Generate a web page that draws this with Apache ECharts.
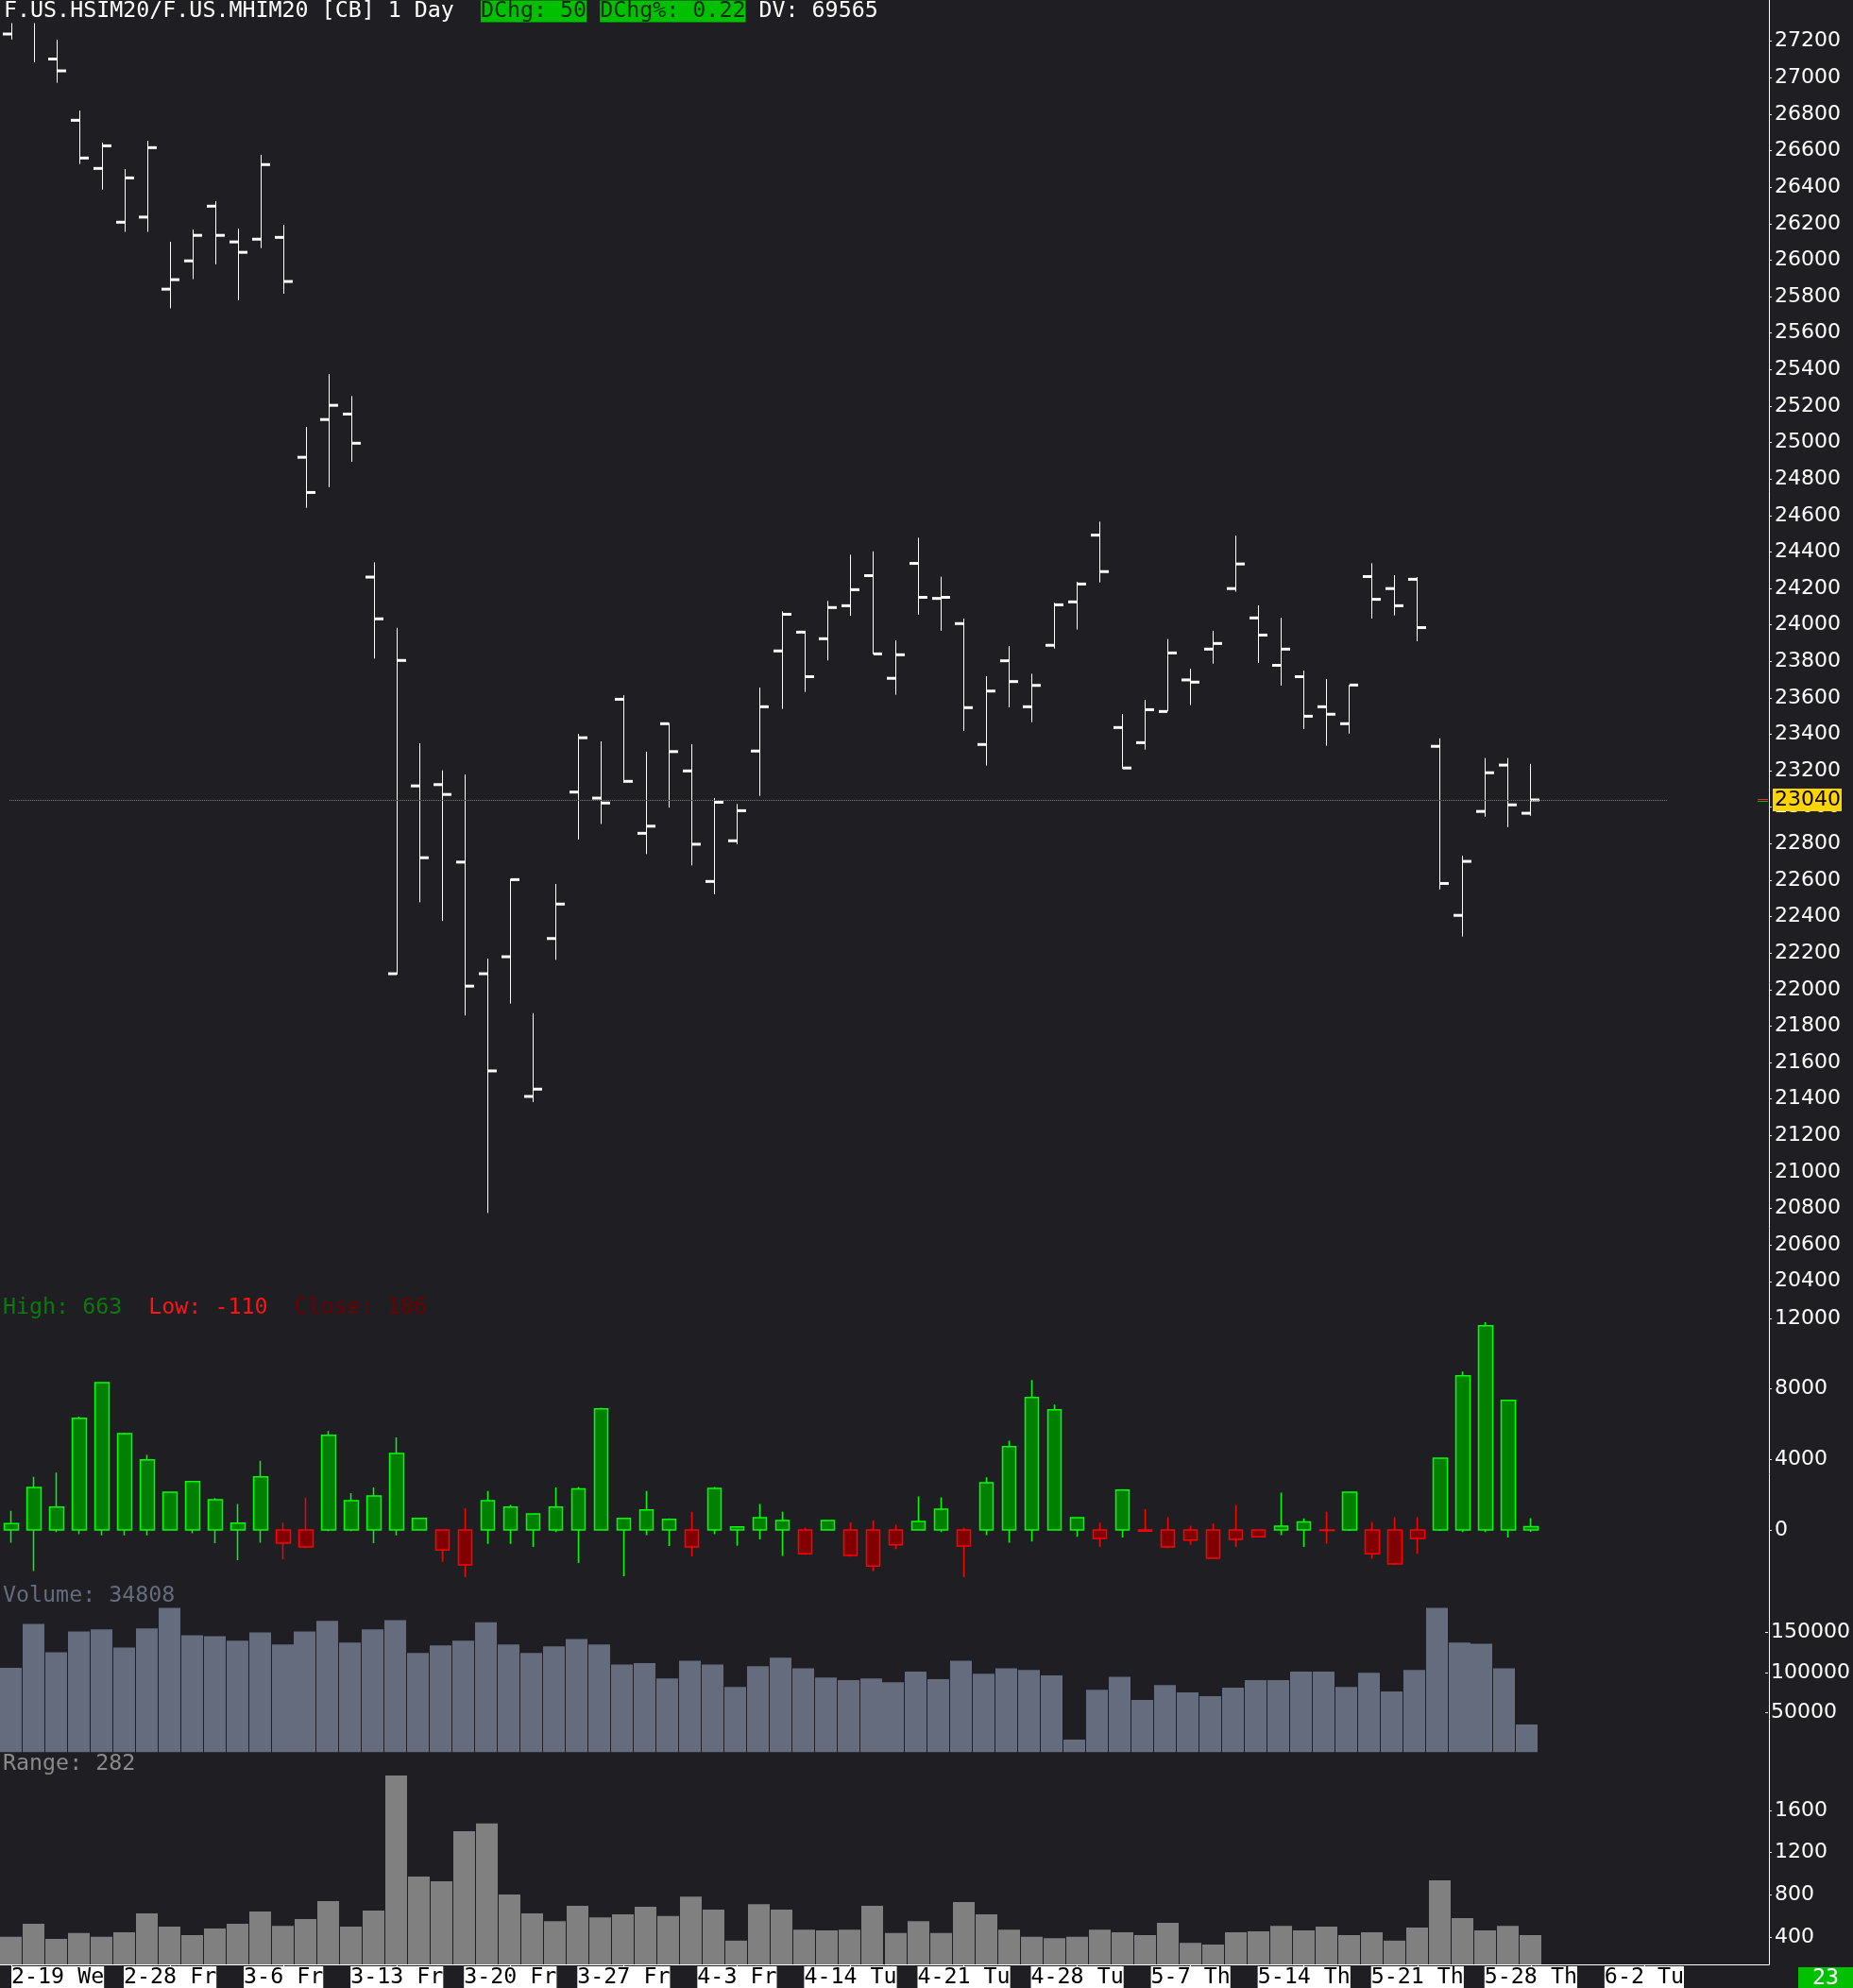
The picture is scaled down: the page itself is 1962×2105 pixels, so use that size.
<!DOCTYPE html>
<html>
<head>
<meta charset="utf-8">
<script src="https://cdn.jsdelivr.net/npm/echarts@6/dist/echarts.min.js"></script>
<style>
html,body{margin:0;padding:0;background:#1e1e23;}
#c{width:1962px;height:2105px;}
</style>
</head>
<body>
<div id="c"></div>
<script>
// ---------- categories ----------
const tradeDates = ['2-19 We','2-20 Th','2-21 Fr','2-24 Mo','2-25 Tu','2-26 We','2-27 Th','2-28 Fr',
'3-2 Mo','3-3 Tu','3-4 We','3-5 Th','3-6 Fr','3-9 Mo','3-10 Tu','3-11 We','3-12 Th','3-13 Fr',
'3-16 Mo','3-17 Tu','3-18 We','3-19 Th','3-20 Fr','3-23 Mo','3-24 Tu','3-25 We','3-26 Th','3-27 Fr',
'3-30 Mo','3-31 Tu','4-1 We','4-2 Th','4-3 Fr','4-6 Mo','4-7 Tu','4-8 We','4-9 Th',
'4-14 Tu','4-15 We','4-16 Th','4-17 Fr','4-20 Mo','4-21 Tu','4-22 We','4-23 Th','4-24 Fr',
'4-27 Mo','4-28 Tu','4-29 We','5-4 Mo','5-5 Tu','5-6 We','5-7 Th','5-8 Fr',
'5-11 Mo','5-12 Tu','5-13 We','5-14 Th','5-15 Fr','5-18 Mo','5-19 Tu','5-20 We','5-21 Th','5-22 Fr',
'5-25 Mo','5-26 Tu','5-27 We','5-28 Th'];
const futureDates = ['5-29 Fr','5-30 Sa','5-31 Su','6-1 Mo','6-2 Tu','6-3 We','6-4 Th','6-5 Fr','6-6 Sa','6-7 Su'];
const labelIndexes = [0,7,12,17,22,27,32,37,42,47,52,57,62,67,72];

// ---------- price OHLC ----------
const priceOpen = [27240,27395,27103,26767,26503,26208,26236,25841,25996,26296,
26100,26115,26125,24919,25126,25156,24262,22087,23117,23124,
22699,22087,22180,21414,22280,23083,23050,23592,22857,23458,
23199,22593,22816,23308,23857,23960,23924,24105,24270,23707,
24337,24145,24007,23344,23803,23551,23888,24126,24492,23437,
23354,23525,23698,23867,24199,24038,23778,23716,23551,23458,
24265,24199,24250,23334,22407,22977,23231,22967];
const priceHigh = [27390,27400,27209,26820,26645,26499,26654,26101,26168,26324,
26173,26578,26194,25085,25376,25255,24343,23984,23351,23202,
23180,22170,22608,21871,22579,23402,23361,23614,23305,23463,
23346,23050,23018,23656,24074,23968,24131,24385,24403,23915,
24478,24264,24035,23719,23884,23732,24121,24236,24566,23511,
23589,23922,23760,23968,24489,24107,24040,23749,23703,23670,
24338,24272,24262,23378,22735,23270,23270,23238];
const priceLow = [27210,27085,26973,26527,26387,26155,26155,25736,25896,25977,
25780,26066,25816,24642,24755,24894,23815,22082,22479,22376,
21858,20775,21923,21383,22163,22823,22908,23133,22743,22998,
22681,22523,22797,23062,23539,23632,23805,24049,23839,23617,
24056,23968,23418,23228,23548,23466,23870,23974,24233,23210,
23316,23525,23560,23787,24182,23791,23666,23429,23337,23404,
24035,24052,23910,22549,22291,22948,22891,22953];
const priceClose = [27375,27380,27038,26560,26627,26451,26617,25893,26136,26136,
26043,26524,25883,24726,25204,24996,24033,23805,22723,23070,
22019,21554,22603,21454,22469,23381,23023,23142,22896,23305,
22797,23027,22981,23551,24058,23716,24095,24193,23841,23836,
24151,24151,23546,23637,23689,23668,24110,24224,24292,23215,
23535,23846,23686,23898,24334,23944,23867,23499,23510,23670,
24140,24105,23985,22582,22703,23189,23013,23040];
const priceTicks = {min:20200, max:27400, step:200};

// ---------- spread candles (open at 0) ----------
const spreadOpen = [0,0,0,0,0,0,0,0,0,0, 0,0,0,0,0,0,0,0,0,0, 0,0,0,0,0,0,0,0,0,0,
0,0,0,0,0,0,0,0,0,0, 0,0,0,0,0,0,0,0,0,0, 0,0,0,0,0,0,0,0,0,0, 0,0,0,0,0,0,0,0];
const spreadClose = [361,2408,1300,6333,8356,5466,3973,2143,2745,1710,
385,3010,-746,-963,5370,1662,1926,4334,650,-1132,
-1975,1662,1300,915,1300,2336,6863,650,1132,602,
-963,2360,169,698,530,-1348,530,-1445,-2047,-843,
482,1180,-915,2673,4720,7513,6815,698,-482,2264,
-72,-963,-578,-1613,-530,-385,217,458,-24,2143,
-1348,-1926,-482,4070,8741,11583,7344,186];
const spreadHigh = [1084,3010,3251,6430,8356,5514,4262,2143,2745,1806,
1469,3925,409,1830,5611,2095,2408,5249,650,0,
1228,2215,1421,915,2408,2432,6935,650,2215,650,
1011,2432,169,1469,1035,120,530,433,554,289,
1902,1854,120,2986,5057,8500,7104,698,409,2312,
1180,722,241,361,1421,0,2119,650,1035,2143,
458,722,722,4070,8982,11775,7344,663];
const spreadLow = [-722,-2336,-120,-241,-313,-313,-313,0,-193,-746,
-1710,-722,-1662,-1035,-72,-72,-746,-313,0,-1806,
-2673,-795,-795,-963,-120,-1878,0,-2625,-289,-915,
-1493,-241,-891,-530,-1469,-1421,0,-1517,-2336,-1084,
0,-120,-2673,-289,-722,-650,0,-385,-963,-433,
-72,-1035,-843,-1613,-963,-385,-289,-963,-770,-48,
-1637,-1975,-1348,-48,-120,-120,-433,-110];
const spreadTicks = {min:-4000, max:12000, step:4000};

// ---------- volume ----------
const volume = [105800,160800,125400,151300,153900,131200,155000,180900,146500,145500,
139700,150200,134900,151300,164500,137500,153900,165600,124300,133800,
139700,162900,134900,124300,132800,141800,134900,110000,111600,92600,
114800,110000,82000,107900,118500,105300,93600,90500,92600,87800,
101000,91500,114800,98400,105300,103200,96300,15900,78300,94700,
65600,84100,75100,70400,80900,90500,90500,101000,101000,82000,
99500,76200,103200,180900,137500,136000,105300,34808];
const volumeTicks = {min:0, max:200000, step:50000};

// ---------- range ----------
const rangeVals = [401,525,381,437,401,445,622,497,417,481,
525,642,505,570,739,497,650,1929,972,928,
1402,1475,803,622,550,694,586,614,686,598,
783,658,365,710,658,469,461,469,694,437,
550,437,731,614,469,401,389,401,469,445,
417,533,344,328,445,453,505,461,497,417,
445,365,489,936,578,461,505,417];
const rangeLabelValues = [400,800,1200,1600];
const rangeAxis = {min:140, max:2000};
const rangeCurrent = 282;

// ---------- header ----------
const headerTitle = 'F.US.HSIM20/F.US.MHIM20 [CB] 1 Day';
const dChg = 50;
const dChgPct = '0.22';
const dayVolume = 69565;
const cornerText = '23';

// ---------- styles ----------
const BG = '#1e1e23';
const MONO = '"DejaVu Sans Mono", monospace';
const SANS = '"DejaVu Sans", sans-serif';
const categories = tradeDates.concat(futureDates);
const n = tradeDates.length;
const lastIdx = n - 1;
const lastClose = priceClose[lastIdx];
const refLineEnd = 73;
const showLabel = (idx) => labelIndexes.indexOf(idx) >= 0;

const L = 0, R = 89;
const grids = [
  {left:L, right:R, top:5.13, height:1390.25},
  {left:L, right:R, top:1395.9, height:298.8},
  {left:L, right:R, top:1686.3, height:169.2},
  {left:L, right:R, top:1872.1, height:207.9}
];

const plain = (v) => String(v);
const yCommon = {
  position:'right',
  axisLine:{show:false},
  splitLine:{show:false},
  axisTick:{show:true, length:3, lineStyle:{color:'#ffffff', width:1}},
  axisLabel:{color:'#ffffff', fontFamily:SANS, fontSize:22, margin:6, formatter:plain}
};

const xAxes = grids.map((g, i) => {
  if (i < 3) {
    return {type:'category', gridIndex:i, data:categories, boundaryGap:true, show:false};
  }
  return {
    type:'category', gridIndex:i, data:categories, boundaryGap:true,
    axisLine:{show:true, lineStyle:{color:'#ffffff', width:1}},
    axisTick:{show:true, alignWithLabel:true, interval:(idx)=>showLabel(idx), length:3, lineStyle:{color:'#ffffff'}},
    axisLabel:{show:true, interval:(idx)=>showLabel(idx), color:'#000000', backgroundColor:'#ffffff',
      fontFamily:MONO, fontSize:23.3, lineHeight:23, padding:[0,0,0,0], margin:2, alignMinLabel:'left'},
    splitLine:{show:false}
  };
});

const yAxes = [
  Object.assign({}, yCommon, {gridIndex:0, min:priceTicks.min, max:priceTicks.max, interval:priceTicks.step,
    axisLabel:Object.assign({}, yCommon.axisLabel, {showMinLabel:false, showMaxLabel:false})}),
  Object.assign({}, yCommon, {gridIndex:1, min:spreadTicks.min, max:spreadTicks.max, interval:spreadTicks.step,
    axisLabel:Object.assign({}, yCommon.axisLabel, {showMinLabel:false})}),
  Object.assign({}, yCommon, {gridIndex:2, min:volumeTicks.min, max:volumeTicks.max, interval:volumeTicks.step,
    axisLabel:Object.assign({}, yCommon.axisLabel, {showMinLabel:false, showMaxLabel:false})}),
  Object.assign({}, yCommon, {gridIndex:3, min:rangeAxis.min, max:rangeAxis.max,
    axisTick:Object.assign({}, yCommon.axisTick, {customValues:rangeLabelValues}),
    axisLabel:Object.assign({}, yCommon.axisLabel, {customValues:rangeLabelValues})})
];

const ohlcData = priceOpen.map((o, i) => [i, o, priceHigh[i], priceLow[i], priceClose[i]]);

const ohlcSeries = {
  type:'custom', name:'price', xAxisIndex:0, yAxisIndex:0, clip:false, z:5,
  encode:{x:0, y:[1,2,3,4]},
  data:ohlcData,
  renderItem:(params, api) => {
    const idx = api.value(0);
    const pO = api.coord([idx, api.value(1)]);
    const pH = api.coord([idx, api.value(2)]);
    const pL = api.coord([idx, api.value(3)]);
    const pC = api.coord([idx, api.value(4)]);
    const x = Math.floor(pO[0]) + 0.5;
    const tick = 9, th = 3;
    return {type:'group', children:[
      {type:'line', shape:{x1:x, y1:pH[1], x2:x, y2:pL[1]}, style:{stroke:'#ffffff', lineWidth:1}},
      {type:'rect', shape:{x:x-0.5-tick, y:pO[1]-th/2, width:tick, height:th}, style:{fill:'#ffffff'}},
      {type:'rect', shape:{x:x+0.5, y:pC[1]-th/2, width:tick, height:th}, style:{fill:'#ffffff'}}
    ]};
  }
};

const lastSeries = {
  type:'custom', name:'last', xAxisIndex:0, yAxisIndex:0, clip:false, z:20,
  data:[[lastIdx, lastClose]],
  renderItem:(params, api) => {
    const idx = api.value(0), v = api.value(1);
    const p = api.coord([idx, v]);
    const p0 = api.coord([0, v]);
    const p1 = api.coord([refLineEnd, v]);
    const right = params.coordSys.x + params.coordSys.width;
    const y = Math.round(p[1]) + 0.5;
    return {type:'group', children:[
      {type:'line', shape:{x1:p0[0]-2, y1:y, x2:p1[0], y2:y}, style:{stroke:'#7a7a7a', lineWidth:1, lineDash:[1,1]}},
      {type:'line', shape:{x1:right-12, y1:y-1, x2:right-1, y2:y-1}, style:{stroke:'#ff2a2a', lineWidth:1}},
      {type:'line', shape:{x1:right-12, y1:y+1, x2:right-1, y2:y+1}, style:{stroke:'#00c000', lineWidth:1}},
      {type:'rect', shape:{x:right+4, y:y-12.5, width:73, height:24}, style:{fill:'#ffd400'}},
      {type:'text', style:{text:String(v), x:right+6, y:y, verticalAlign:'middle', textAlign:'left',
        font:'22px ' + SANS, fill:'#000000'}}
    ]};
  }
};

const candleSeries = {
  type:'candlestick', name:'spread', xAxisIndex:1, yAxisIndex:1, barWidth:15,
  data:spreadOpen.map((o, i) => [o, spreadClose[i], spreadLow[i], spreadHigh[i]]),
  itemStyle:{color:'#008000', color0:'#800000', borderColor:'#00ff00', borderColor0:'#ff0000', borderWidth:1.5}
};

function barRender(color) {
  return (params, api) => {
    const idx = api.value(0);
    const top = api.coord([idx, api.value(1)]);
    const base = api.coord([idx, 0]);
    const band = api.size([1, 0])[0];
    const w = Math.round(band) - 1;
    const x0 = Math.floor(top[0] - w / 2);
    return {type:'rect', shape:{x:x0, y:top[1], width:w, height:base[1] - top[1]}, style:{fill:color}};
  };
}

const volumeSeries = {
  type:'custom', name:'volume', xAxisIndex:2, yAxisIndex:2, clip:true,
  encode:{x:0, y:1},
  data:volume.map((v, i) => [i, v]),
  renderItem:barRender('#646c7e')
};

const rangeSeries = {
  type:'custom', name:'range', xAxisIndex:3, yAxisIndex:3, clip:true,
  encode:{x:0, y:1},
  data:rangeVals.map((v, i) => [i, v]),
  renderItem:barRender('#808080')
};

const graphics = [
  {type:'line', z:50, shape:{x1:1873.5, y1:0, x2:1873.5, y2:2080.5}, style:{stroke:'#ffffff', lineWidth:1}},
  {type:'rect', z:49, shape:{x:0, y:0, width:935, height:24.6}, style:{fill:BG}},
  {type:'text', z:50, style:{
    x:4, y:12, verticalAlign:'middle', font:'23.3px ' + MONO,
    text:'{w|' + headerTitle + '  }{g|DChg: ' + dChg + '}{w| }{g|DChg%: ' + dChgPct + '}{w| DV: ' + dayVolume + '}',
    rich:{
      w:{fill:'#ffffff', font:'23.3px ' + MONO, lineHeight:23},
      g:{fill:'#0c2a0c', backgroundColor:'#00c000', font:'23.3px ' + MONO, lineHeight:23, height:23}
    }
  }},
  {type:'text', z:50, style:{
    x:3, y:1385, verticalAlign:'middle', font:'23.3px ' + MONO,
    text:'{h|High: ' + spreadHigh[lastIdx] + '}{s|  }{l|Low: ' + spreadLow[lastIdx] + '}{s|  }{c|Close: ' + spreadClose[lastIdx] + '}',
    rich:{
      h:{fill:'#0a7a0a', font:'23.3px ' + MONO},
      s:{fill:'#0a7a0a', font:'23.3px ' + MONO},
      l:{fill:'#ff1414', font:'23.3px ' + MONO},
      c:{fill:'#6e0000', font:'23.3px ' + MONO}
    }
  }},
  {type:'text', z:50, style:{x:3, y:1690, verticalAlign:'middle', font:'23.3px ' + MONO, fill:'#646c7e',
    text:'Volume: ' + volume[lastIdx]}},
  {type:'text', z:50, style:{x:3, y:1868, verticalAlign:'middle', font:'23.3px ' + MONO, fill:'#8a8a8a',
    text:'Range: ' + rangeCurrent}},
  {type:'rect', z:50, shape:{x:1904, y:2083, width:58, height:22}, style:{fill:'#00c000'}},
  {type:'text', z:51, style:{x:1933, y:2095, verticalAlign:'middle', textAlign:'center', font:'23.3px ' + MONO, fill:'#ffffff',
    text:cornerText}}
];

const option = {
  backgroundColor:BG,
  animation:false,
  grid:grids,
  xAxis:xAxes,
  yAxis:yAxes,
  series:[ohlcSeries, lastSeries, candleSeries, volumeSeries, rangeSeries],
  graphic:graphics
};

const chart = echarts.init(document.getElementById('c'), null, {renderer:'canvas'});
chart.setOption(option);
</script>
</body>
</html>
